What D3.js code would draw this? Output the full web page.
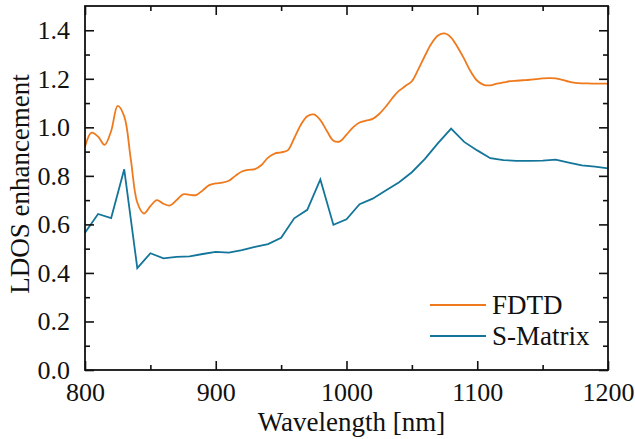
<!DOCTYPE html>
<html>
<head>
<meta charset="utf-8">
<script src="https://cdn.jsdelivr.net/npm/d3@7"></script>
<style>
  html, body { margin: 0; padding: 0; background: #fff; }
  svg { display: block; }
</style>
</head>
<body>
<div id="chart"></div>
<script>
// LDOS enhancement vs wavelength: FDTD (smooth) vs S-Matrix (10 nm samples)

const fdtdWl = [800,805,810,815,820,825,830,835,840,845,850,855,860,865,870,875,880,885,890,895,
  900,905,910,915,920,925,930,935,940,945,950,955,960,965,970,975,980,985,990,995,
  1000,1005,1010,1015,1020,1025,1030,1035,1040,1045,1050,1055,1060,1065,1070,1075,1080,1085,1090,1095,
  1100,1105,1110,1115,1120,1125,1130,1135,1140,1145,1150,1155,1160,1165,1170,1175,1180,1185,1190,1195,1200];
const fdtdVal = [0.920,0.978,0.962,0.928,0.985,1.088,1.045,0.870,0.690,0.645,0.675,0.700,0.685,0.678,0.700,0.724,0.722,0.721,0.740,0.762,
  0.769,0.772,0.780,0.800,0.818,0.825,0.828,0.845,0.875,0.892,0.897,0.905,0.955,1.010,1.046,1.053,1.030,0.985,0.945,0.942,
  0.970,1.000,1.020,1.028,1.035,1.055,1.085,1.120,1.150,1.170,1.190,1.240,1.295,1.345,1.378,1.387,1.370,1.330,1.282,1.230,
  1.192,1.175,1.173,1.180,1.185,1.190,1.192,1.194,1.196,1.199,1.202,1.203,1.202,1.196,1.188,1.183,1.181,1.181,1.180,1.180,1.180];

const smatWl = [800,810,820,830,840,850,860,870,880,890,900,910,920,930,940,950,960,970,980,990,
  1000,1010,1020,1030,1040,1050,1060,1070,1080,1090,1100,1110,1120,1130,1140,1150,1160,1170,1180,1190,1200];
const smatVal = [0.566,0.643,0.626,0.827,0.420,0.481,0.460,0.466,0.468,0.478,0.487,0.484,0.494,0.507,0.519,0.545,0.625,0.660,0.785,0.598,
  0.621,0.683,0.706,0.740,0.773,0.815,0.870,0.935,0.995,0.940,0.905,0.873,0.865,0.862,0.862,0.863,0.867,0.855,0.843,0.838,0.831];

const xTicks = [800, 900, 1000, 1100, 1200];
const yTicks = [0.0, 0.2, 0.4, 0.6, 0.8, 1.0, 1.2, 1.4];
const seriesNames = ["FDTD", "S-Matrix"];
const seriesColors = ["#ef7a1d", "#13759a"];

const FONT = "Liberation Serif";
const W = 635, H = 439;
const margin = { top: 6, right: 27, bottom: 69, left: 85 };

const svg = d3.select("#chart").append("svg").attr("width", W).attr("height", H)
  .attr("font-family", FONT);

const x = d3.scaleLinear().domain([800, 1200]).range([margin.left, W - margin.right]);
const y = d3.scaleLinear().domain([0, 1.5]).range([H - margin.bottom, margin.top]);

const majLen = 9, minLen = 5;
const xMinor = d3.range(850, 1200, 100);
const yMinor = d3.range(0.1, 1.5, 0.2);

// lines
const fdtd = fdtdWl.map((w, i) => [w, fdtdVal[i]]);
const smat = smatWl.map((w, i) => [w, smatVal[i]]);

svg.append("path").datum(fdtd)
  .attr("fill", "none").attr("stroke", seriesColors[0]).attr("stroke-width", 1.8)
  .attr("d", d3.line().x(d => x(d[0])).y(d => y(d[1])).curve(d3.curveCatmullRom.alpha(0.5)));
svg.append("path").datum(smat)
  .attr("fill", "none").attr("stroke", seriesColors[1]).attr("stroke-width", 1.8)
  .attr("stroke-linejoin", "miter")
  .attr("d", d3.line().x(d => x(d[0])).y(d => y(d[1])));

// axes, ticks pointing inward on all four sides
const pB = H - margin.bottom, pT = margin.top, pL = margin.left, pR = W - margin.right;

svg.append("g").attr("transform", `translate(0,${pB})`)
  .call(d3.axisBottom(x).tickValues(xTicks).tickFormat(d3.format("d")).tickSize(-majLen).tickPadding(13));
svg.append("g").attr("transform", `translate(0,${pB})`)
  .call(d3.axisBottom(x).tickValues(xMinor).tickFormat("").tickSize(-minLen));
svg.append("g").attr("transform", `translate(0,${pT})`)
  .call(d3.axisTop(x).tickValues(xTicks).tickFormat("").tickSize(-majLen));
svg.append("g").attr("transform", `translate(0,${pT})`)
  .call(d3.axisTop(x).tickValues(xMinor).tickFormat("").tickSize(-minLen));

svg.append("g").attr("transform", `translate(${pL},0)`)
  .call(d3.axisLeft(y).tickValues(yTicks).tickFormat(d3.format(".1f")).tickSize(-majLen).tickPadding(15));
svg.append("g").attr("transform", `translate(${pL},0)`)
  .call(d3.axisLeft(y).tickValues(yMinor).tickFormat("").tickSize(-minLen));
svg.append("g").attr("transform", `translate(${pR},0)`)
  .call(d3.axisRight(y).tickValues(yTicks).tickFormat("").tickSize(-majLen));
svg.append("g").attr("transform", `translate(${pR},0)`)
  .call(d3.axisRight(y).tickValues(yMinor).tickFormat("").tickSize(-minLen));

svg.selectAll(".domain").remove();
svg.selectAll("g").attr("font-family", FONT).attr("font-size", 26);
svg.selectAll(".tick line").attr("stroke", "#111").attr("stroke-width", 1.6);
svg.selectAll(".tick text").attr("font-family", FONT).attr("font-size", 26).attr("fill", "#111");

svg.append("rect")
  .attr("x", pL).attr("y", pT).attr("width", pR - pL).attr("height", pB - pT)
  .attr("fill", "none").attr("stroke", "#111").attr("stroke-width", 1.8);

// axis titles
svg.append("text")
  .attr("x", (pL + pR) / 2 + 5).attr("y", 431).attr("text-anchor", "middle")
  .attr("font-family", FONT).attr("font-size", 27).attr("fill", "#111").text("Wavelength [nm]");
svg.append("text")
  .attr("transform", `translate(29,${(pT + pB) / 2 - 4}) rotate(-90)`).attr("text-anchor", "middle")
  .attr("font-family", FONT).attr("font-size", 27).attr("fill", "#111").text("LDOS enhancement");

// legend
const lg = svg.append("g");
seriesNames.forEach((name, i) => {
  const ly = 305 + i * 31;
  lg.append("line").attr("x1", 430).attr("x2", 486).attr("y1", ly).attr("y2", ly)
    .attr("stroke", seriesColors[i]).attr("stroke-width", 1.8);
  lg.append("text").attr("x", 492).attr("y", ly + 9)
    .attr("font-family", FONT).attr("font-size", 27).attr("fill", "#111").text(name);
});
</script>
</body>
</html>
